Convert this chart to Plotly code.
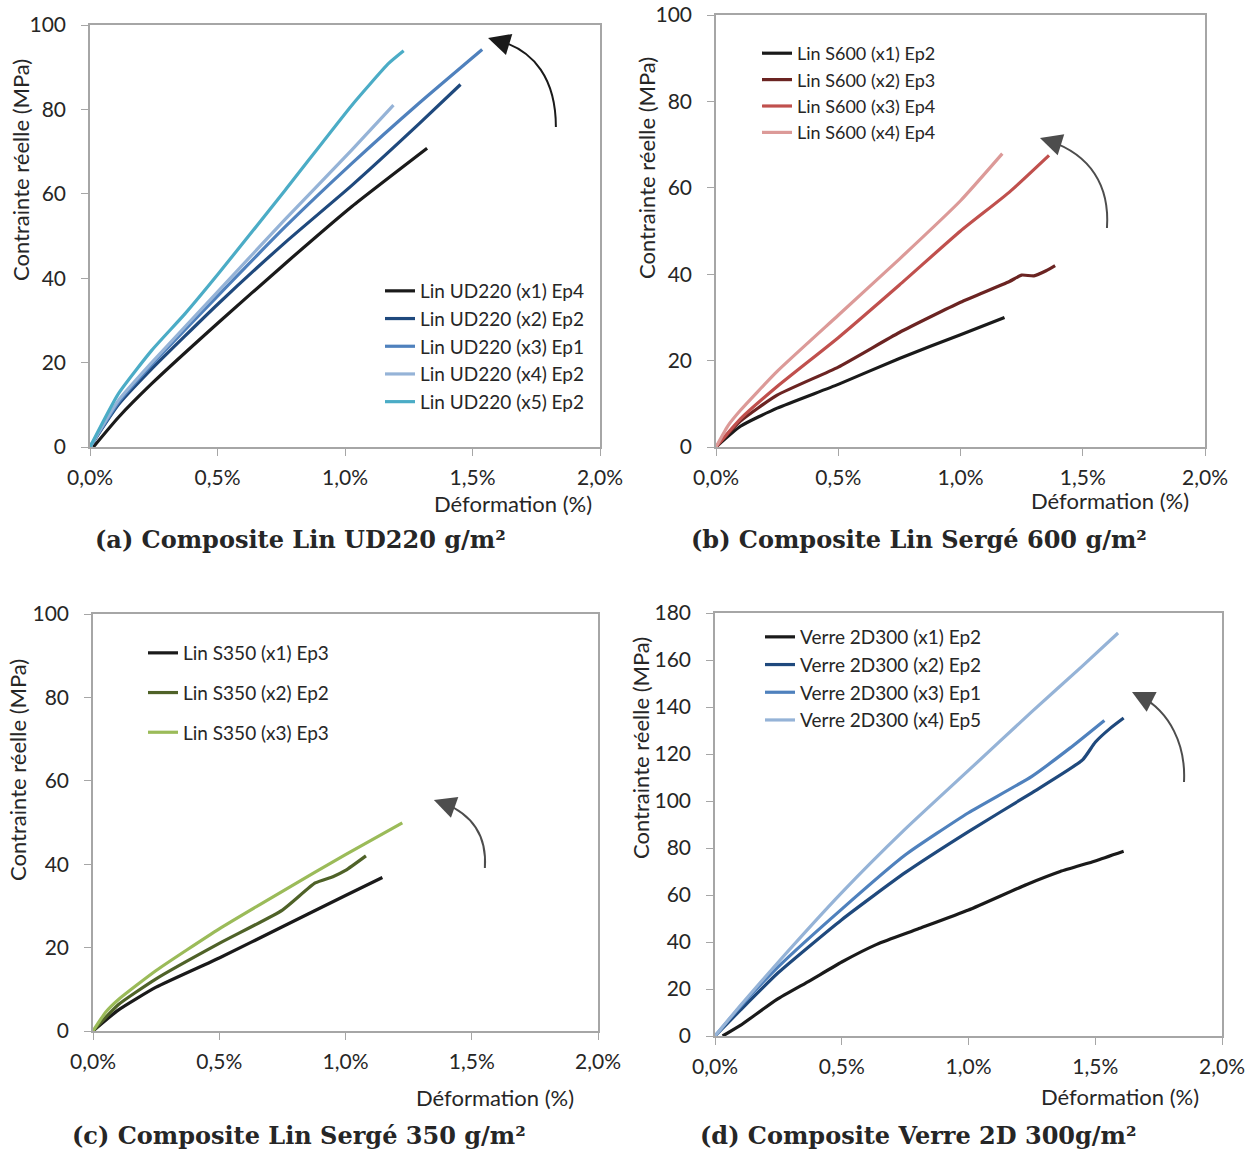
import plotly.graph_objects as go

W, H = 1247, 1151

# ---------------- data (strain in %, stress in MPa) ----------------
# Panel (a) Composite Lin UD220
a_names = ["Lin UD220 (x1) Ep4", "Lin UD220 (x2) Ep2", "Lin UD220 (x3) Ep1",
           "Lin UD220 (x4) Ep2", "Lin UD220 (x5) Ep2"]
a_colors = ["#1a1a1a", "#1f497d", "#4f81bd", "#95b3d7", "#4bacc6"]
a1_x = [0.013, 0.111, 0.242, 0.504, 0.766, 1.027, 1.322]
a1_y = [0, 7, 15, 29.5, 43.5, 57, 70.8]
a2_x = [0, 0.111, 0.242, 0.504, 0.766, 1.027, 1.289, 1.453]
a2_y = [0, 10, 18.5, 34, 48.5, 62, 76.5, 85.9]
a3_x = [0, 0.111, 0.242, 0.504, 0.766, 1.027, 1.289, 1.538]
a3_y = [0, 10.5, 19.5, 36, 52.2, 67.2, 81.4, 94.2]
a4_x = [0, 0.111, 0.242, 0.504, 0.766, 1.027, 1.19]
a4_y = [0, 11, 20, 37, 54, 70.4, 81]
a5_x = [0, 0.111, 0.242, 0.373, 0.504, 0.766, 1.027, 1.171, 1.23]
a5_y = [0, 12.6, 22.9, 31.6, 41.1, 60.9, 81, 90.9, 93.9]

# Panel (b) Composite Lin Sergé 600
b_names = ["Lin S600 (x1) Ep2", "Lin S600 (x2) Ep3", "Lin S600 (x3) Ep4", "Lin S600 (x4) Ep4"]
b_colors = ["#1a1a1a", "#6b2422", "#c0504d", "#dc9a98"]
b1_x = [0, 0.1, 0.25, 0.5, 0.75, 1.0, 1.18]
b1_y = [0, 4.8, 9, 14.5, 20.5, 26, 30]
b2_x = [0, 0.1, 0.25, 0.5, 0.75, 1.0, 1.2, 1.25, 1.3, 1.35, 1.387]
b2_y = [0, 6, 12, 18.5, 26.5, 33.5, 38.3, 39.8, 39.6, 40.8, 42]
b3_x = [0, 0.1, 0.25, 0.5, 0.75, 1.0, 1.2, 1.362]
b3_y = [0, 6.5, 14, 25.3, 37.5, 50, 59, 67.5]
b4_x = [0, 0.05, 0.1, 0.25, 0.5, 0.75, 1.0, 1.171]
b4_y = [0, 5, 8.5, 17.5, 30.5, 43.5, 57, 67.9]

# Panel (c) Composite Lin Sergé 350
c_names = ["Lin S350 (x1) Ep3", "Lin S350 (x2) Ep2", "Lin S350 (x3) Ep3"]
c_colors = ["#1a1a1a", "#4f6228", "#9bbb59"]
c1_x = [0, 0.1, 0.25, 0.5, 0.75, 1.0, 1.146]
c1_y = [0, 5, 10.5, 17.5, 25, 32.5, 36.8]
c2_x = [0, 0.1, 0.25, 0.5, 0.75, 0.88, 0.95, 1.0, 1.081]
c2_y = [0, 6.3, 12.5, 21, 29, 35.5, 37, 38.5, 42]
c3_x = [0, 0.05, 0.1, 0.25, 0.5, 0.75, 1.0, 1.225]
c3_y = [0, 4.5, 7.5, 14.5, 24.5, 33.5, 42.3, 49.9]

# Panel (d) Composite Verre 2D 300
d_names = ["Verre 2D300 (x1) Ep2", "Verre 2D300 (x2) Ep2", "Verre 2D300 (x3) Ep1", "Verre 2D300 (x4) Ep5"]
d_colors = ["#1a1a1a", "#1f497d", "#4f81bd", "#95b3d7"]
d1_x = [0.03, 0.1, 0.243, 0.375, 0.5, 0.638, 0.8, 1.0, 1.23, 1.362, 1.5, 1.612]
d1_y = [0, 4.5, 15.5, 23.6, 31.5, 39, 45.5, 53.6, 64.5, 70, 74.5, 78.6]
d2_x = [0, 0.1, 0.25, 0.5, 0.75, 1.0, 1.25, 1.45, 1.5, 1.56, 1.612]
d2_y = [0, 11, 27, 49.5, 69.5, 87, 103.5, 117.5, 125, 131, 135.3]
d3_x = [0, 0.1, 0.25, 0.5, 0.75, 1.0, 1.25, 1.4, 1.536]
d3_y = [0, 12.5, 29.5, 54, 77, 95, 110.5, 122.5, 134.3]
d4_x = [0, 0.1, 0.25, 0.5, 0.75, 1.0, 1.25, 1.45, 1.59]
d4_y = [0, 13, 31.5, 61, 88, 113, 138, 157.5, 171.5]

x_tickvals = [0, 0.5, 1.0, 1.5, 2.0]
x_ticktext = ["0,0%", "0,5%", "1,0%", "1,5%", "2,0%"]

panel_titles = ["(a) Composite Lin UD220 g/m²", "(b) Composite Lin Sergé 600 g/m²",
                "(c) Composite Lin Sergé 350 g/m²", "(d) Composite Verre 2D 300g/m²"]
x_title = "Déformation (%)"
y_title = "Contrainte réelle (MPa)"

# ---------------- figure ----------------
FONT = "Lato"
TXT = "#262626"
GRID = "#a6a6a6"

def px(x):
    return x / W

def py(y):
    return 1 - y / H

fig = go.Figure()

panels = [
    dict(xa="x", ya="y", leg="legend", names=a_names, colors=a_colors,
         series=[(a1_x, a1_y), (a2_x, a2_y), (a3_x, a3_y), (a4_x, a4_y), (a5_x, a5_y)]),
    dict(xa="x2", ya="y2", leg="legend2", names=b_names, colors=b_colors,
         series=[(b1_x, b1_y), (b2_x, b2_y), (b3_x, b3_y), (b4_x, b4_y)]),
    dict(xa="x3", ya="y3", leg="legend3", names=c_names, colors=c_colors,
         series=[(c1_x, c1_y), (c2_x, c2_y), (c3_x, c3_y)]),
    dict(xa="x4", ya="y4", leg="legend4", names=d_names, colors=d_colors,
         series=[(d1_x, d1_y), (d2_x, d2_y), (d3_x, d3_y), (d4_x, d4_y)]),
]

for p in panels:
    for i, ((xs, ys), nm, col) in enumerate(zip(p["series"], p["names"], p["colors"])):
        fig.add_trace(go.Scatter(x=xs, y=ys, mode="lines", name=nm,
                                 line=dict(color=col, width=3.2, shape="spline", smoothing=0.5),
                                 xaxis=p["xa"], yaxis=p["ya"], legend=p["leg"],
                                 legendgroup=p["leg"] + str(i)))

# plot-area boxes in pixels (left, right, top, bottom)
boxes = [(90, 600, 25, 447), (716, 1205, 15, 447), (93, 598, 614, 1031), (715, 1222, 613, 1036)]
yranges = [[0, 100], [0, 100], [0, 100], [0, 180]]

axis_common = dict(showline=True, mirror=True, linecolor=GRID, linewidth=1.5,
                   showgrid=False, zeroline=False, ticks="outside", ticklen=7,
                   tickcolor=GRID, tickwidth=1.2, automargin=False,
                   tickfont=dict(family=FONT, size=21, color=TXT))

layout = dict(width=W, height=H, margin=dict(l=0, r=0, t=0, b=0, autoexpand=False),
              paper_bgcolor="white", plot_bgcolor="white", showlegend=True)

for k, ((l, r, t, b), yr) in enumerate(zip(boxes, yranges)):
    sfx = "" if k == 0 else str(k + 1)
    layout["xaxis" + sfx] = dict(axis_common, domain=[px(l), px(r)], range=[0, 2],
                                 tickvals=x_tickvals, ticktext=x_ticktext,
                                 ticklabelstandoff=4,
                                 anchor="y" + sfx)
    layout["yaxis" + sfx] = dict(axis_common, domain=[py(b), py(t)], range=yr, dtick=20,
                                 ticklabelstandoff=11,
                                 anchor="x" + sfx)

# legends: (left px, top px, group gap, font size)
leg_pos = [(380, 272, 0, 19), (757, 35, 0, 18), (143, 634, 12, 19), (760, 618, 0, 19)]
for k, (lx, ly, gap, fs) in enumerate(leg_pos):
    key = "legend" if k == 0 else "legend" + str(k + 1)
    layout[key] = dict(x=px(lx), y=py(ly), xanchor="left", yanchor="top",
                       bgcolor="rgba(0,0,0,0)", borderwidth=0,
                       tracegroupgap=gap, itemwidth=30,
                       font=dict(family=FONT, size=fs, color=TXT))

fig.update_layout(**layout)

# text annotations
ann = []
title_pos = [(300, 540), (919, 540), (299, 1135), (918, 1135)]
for t, (cx, cy) in zip(panel_titles, title_pos):
    ann.append(dict(text="<b>" + t + "</b>", x=px(cx), y=py(cy), xref="paper", yref="paper",
                    showarrow=False, xanchor="center", yanchor="middle",
                    font=dict(family="DejaVu Serif", size=24, color=TXT)))
xt_pos = [(513, 503), (1110, 501), (495, 1097), (1120, 1096)]
for (cx, cy) in xt_pos:
    ann.append(dict(text=x_title, x=px(cx), y=py(cy), xref="paper", yref="paper",
                    showarrow=False, xanchor="center", yanchor="middle",
                    font=dict(family=FONT, size=22, color=TXT)))
yt_pos = [(21, 170), (646, 168), (17, 770), (640, 748)]
for (cx, cy) in yt_pos:
    ann.append(dict(text=y_title, x=px(cx), y=py(cy), xref="paper", yref="paper",
                    showarrow=False, xanchor="center", yanchor="middle", textangle=-90,
                    font=dict(family=FONT, size=22, color=TXT)))

# curved arrows (decoration), in each panel's data coordinates
arrows = [
    ("x", "y", "#1a1a1a", (1.827, 75.8), (1.827, 87.0), (1.745, 94.1), (1.596, 96.4), (1.561, 96.9), (1.627, 95.7)),
    ("x2", "y2", "#4d4d4d", (1.599, 50.7), (1.611, 60.6), (1.530, 67.6), (1.366, 70.8), (1.325, 71.5), (1.387, 70.4)),
    ("x3", "y3", "#4d4d4d", (1.552, 39.1), (1.560, 46.3), (1.509, 51.8), (1.386, 54.7), (1.350, 55.4), (1.406, 54.2)),
    ("x4", "y4", "#4d4d4d", (1.850, 108.1), (1.858, 123.8), (1.795, 137.9), (1.677, 144.7), (1.645, 146.4), (1.700, 143.4)),
]
shapes = []
for xr, yr, col, s, c1, c2, e, tip, tail in arrows:
    path = "M {},{} C {},{} {},{} {},{}".format(s[0], s[1], c1[0], c1[1], c2[0], c2[1], e[0], e[1])
    shapes.append(dict(type="path", path=path, xref=xr, yref=yr,
                       line=dict(color=col, width=2)))
    ann.append(dict(x=tip[0], y=tip[1], ax=tail[0], ay=tail[1], xref=xr, yref=yr,
                    axref=xr, ayref=yr, text="", showarrow=True, arrowhead=2,
                    arrowsize=2.2, arrowwidth=2, arrowcolor=col))

fig.update_layout(annotations=ann, shapes=shapes)

fig.write_html("out.html", config={"displayModeBar": False},
               post_script="document.body.style.margin='0';document.body.style.padding='0';")
